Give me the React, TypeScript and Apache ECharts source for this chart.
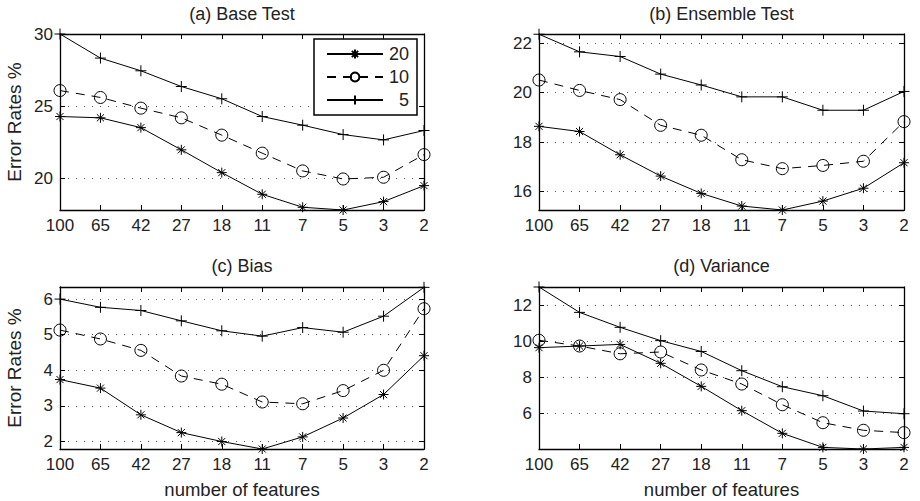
import React, { useEffect, useRef } from "react";
import * as echarts from "echarts";

const categories = ["100", "65", "42", "27", "18", "11", "7", "5", "3", "2"];
const seriesNames = ["20", "10", "5"];

// (a) Base Test
const a20 = [24.28, 24.19, 23.51, 21.97, 20.39, 18.89, 17.99, 17.8, 18.38, 19.49];
const a10 = [26.08, 25.6, 24.86, 24.19, 22.99, 21.74, 20.51, 19.95, 20.07, 21.64];
const a5 = [30.0, 28.33, 27.45, 26.36, 25.51, 24.28, 23.68, 23.03, 22.66, 23.31];
// (b) Ensemble Test
const b20 = [18.64, 18.43, 17.49, 16.63, 15.93, 15.42, 15.26, 15.62, 16.14, 17.17];
const b10 = [20.51, 20.09, 19.72, 18.68, 18.28, 17.29, 16.93, 17.06, 17.23, 18.83];
const b5 = [22.36, 21.65, 21.46, 20.75, 20.31, 19.83, 19.83, 19.29, 19.29, 20.05];
// (c) Bias
const c20 = [3.74, 3.5, 2.75, 2.25, 2.0, 1.79, 2.13, 2.66, 3.32, 4.41];
const c10 = [5.13, 4.88, 4.56, 3.84, 3.61, 3.11, 3.06, 3.43, 4.0, 5.73];
const c5 = [6.0, 5.77, 5.68, 5.39, 5.11, 4.96, 5.2, 5.07, 5.52, 6.33];
// (d) Variance
const d20 = [9.65, 9.74, 9.83, 8.78, 7.5, 6.15, 4.89, 4.11, 4.02, 4.11];
const d10 = [10.06, 9.74, 9.31, 9.41, 8.41, 7.63, 6.48, 5.48, 5.06, 4.93];
const d5 = [13.02, 11.61, 10.78, 10.04, 9.44, 8.37, 7.48, 6.98, 6.13, 5.98];

const titles = ["(a) Base Test", "(b) Ensemble Test", "(c) Bias", "(d) Variance"];
const yMins = [17.8, 15.26, 1.79, 4.02];
const yMaxs = [30, 22.37, 6.34, 13.02];
const ySteps = [5, 2, 1, 2];
const panelData = [
  [a20, a10, a5],
  [b20, b10, b5],
  [c20, c10, c5],
  [d20, d10, d5],
];

const yLabel = "Error Rates %";
const xLabel = "number of features";

// layout
const grids = [
  { left: 60, top: 34, width: 364, height: 176 },
  { left: 539, top: 34, width: 365, height: 176 },
  { left: 60, top: 287, width: 364, height: 162 },
  { left: 539, top: 287, width: 365, height: 162 },
];

const FONT = "'Liberation Sans', Arial, Helvetica, sans-serif";
const TXT = "#222";
const STAR = "path://M5,0L5,10M0,5L10,5M1.46,1.46L8.54,8.54M8.54,1.46L1.46,8.54";
const PLUS = "path://M5,0L5,10M0,5L10,5";

function buildOption() {
  const xAxis: any[] = [];
  const yAxis: any[] = [];
  const series: any[] = [];
  const graphic: any[] = [];

  grids.forEach((g, i) => {
    const axisLine = { show: true, onZero: false, lineStyle: { color: "#000", width: 1.3 } };
    const tick = { show: true, inside: true, length: 5, lineStyle: { color: "#000", width: 1 } };
    xAxis.push({
      type: "category",
      gridIndex: i,
      data: categories,
      boundaryGap: false,
      position: "bottom",
      axisLine,
      axisTick: tick,
      axisLabel: { margin: 7, color: TXT, fontSize: 17, fontFamily: FONT },
      splitLine: { show: false },
    });
    xAxis.push({
      type: "category",
      gridIndex: i,
      data: categories,
      boundaryGap: false,
      position: "top",
      axisLine,
      axisTick: tick,
      axisLabel: { show: false },
      splitLine: { show: false },
    });
    const step = ySteps[i];
    const fmt = (v: number) => {
      const r = v / step;
      return Math.abs(r - Math.round(r)) < 1e-6 ? String(Math.round(v)) : "";
    };
    yAxis.push({
      type: "value",
      gridIndex: i,
      position: "left",
      min: yMins[i],
      max: yMaxs[i],
      minInterval: step,
      maxInterval: step,
      axisLine,
      axisTick: tick,
      axisLabel: {
        margin: 7,
        color: TXT,
        fontSize: 17,
        fontFamily: FONT,
        formatter: fmt,
        showMinLabel: false,
      },
      splitLine: { show: true, lineStyle: { color: "#555", width: 1, type: [1, 7] } },
    });
    yAxis.push({
      type: "value",
      gridIndex: i,
      position: "right",
      min: yMins[i],
      max: yMaxs[i],
      minInterval: step,
      maxInterval: step,
      axisLine,
      axisTick: tick,
      axisLabel: { show: false },
      splitLine: { show: false },
    });

    const [s20, s10, s5] = panelData[i];
    series.push({
      type: "line",
      name: seriesNames[0],
      xAxisIndex: 2 * i,
      yAxisIndex: 2 * i,
      data: s20,
      symbol: STAR,
      symbolSize: 10,
      showAllSymbol: true,
      lineStyle: { color: "#000", width: 1, type: "solid" },
      itemStyle: { color: "#000", borderColor: "#000", borderWidth: 1 },
      emphasis: { disabled: true },
    });
    series.push({
      type: "line",
      name: seriesNames[1],
      xAxisIndex: 2 * i,
      yAxisIndex: 2 * i,
      data: s10,
      symbol: "circle",
      symbolSize: 12,
      showAllSymbol: true,
      lineStyle: { color: "#000", width: 1, type: [9, 7] },
      itemStyle: { color: "rgba(0,0,0,0)", borderColor: "#000", borderWidth: 1 },
      emphasis: { disabled: true },
    });
    series.push({
      type: "line",
      name: seriesNames[2],
      xAxisIndex: 2 * i,
      yAxisIndex: 2 * i,
      data: s5,
      symbol: PLUS,
      symbolSize: 11,
      showAllSymbol: true,
      lineStyle: { color: "#000", width: 1, type: "solid" },
      itemStyle: { color: "#000", borderColor: "#000", borderWidth: 1 },
      emphasis: { disabled: true },
    });

    graphic.push({
      type: "text",
      x: g.left + g.width / 2,
      y: i < 2 ? 14 : 266,
      style: {
        text: titles[i],
        fontSize: 18,
        fontFamily: FONT,
        fill: TXT,
        align: "center",
        verticalAlign: "middle",
      },
    });
  });

  [0, 2].forEach((i) => {
    const g = grids[i];
    graphic.push({
      type: "text",
      x: 14,
      y: g.top + g.height / 2,
      rotation: Math.PI / 2,
      style: {
        text: yLabel,
        fontSize: 19,
        fontFamily: FONT,
        fill: TXT,
        align: "center",
        verticalAlign: "middle",
      },
    });
  });
  [2, 3].forEach((i) => {
    const g = grids[i];
    graphic.push({
      type: "text",
      x: g.left + g.width / 2,
      y: 489,
      style: {
        text: xLabel,
        fontSize: 18.5,
        fontFamily: FONT,
        fill: TXT,
        align: "center",
        verticalAlign: "middle",
      },
    });
  });

  return {
    animation: false,
    backgroundColor: "#fff",
    grid: grids.map((g) => ({ ...g, containLabel: false })),
    xAxis,
    yAxis,
    series,
    graphic,
    legend: {
      data: seriesNames,
      orient: "vertical",
      left: 314,
      top: 39,
      padding: [6, 8, 6, 12],
      itemWidth: 56,
      itemHeight: 11,
      itemGap: 5,
      backgroundColor: "#fff",
      borderColor: "#000",
      borderWidth: 1.5,
      selectedMode: false,
      formatter: (name: string) => "{r|" + name + "}",
      textStyle: {
        color: TXT,
        fontSize: 18,
        fontFamily: FONT,
        rich: { r: { width: 21, align: "right", fontSize: 18, fontFamily: FONT, color: TXT, lineHeight: 18 } },
      },
    },
  };
}

export default function App() {
  const ref = useRef<HTMLDivElement>(null);
  useEffect(() => {
    if (!ref.current) return;
    const chart = echarts.init(ref.current, null, { renderer: "svg" });
    chart.setOption(buildOption() as any);
    return () => chart.dispose();
  }, []);
  return (
    <div
      ref={ref}
      style={{ position: "fixed", left: 0, top: 0, width: 920, height: 501, background: "#fff" }}
    />
  );
}
